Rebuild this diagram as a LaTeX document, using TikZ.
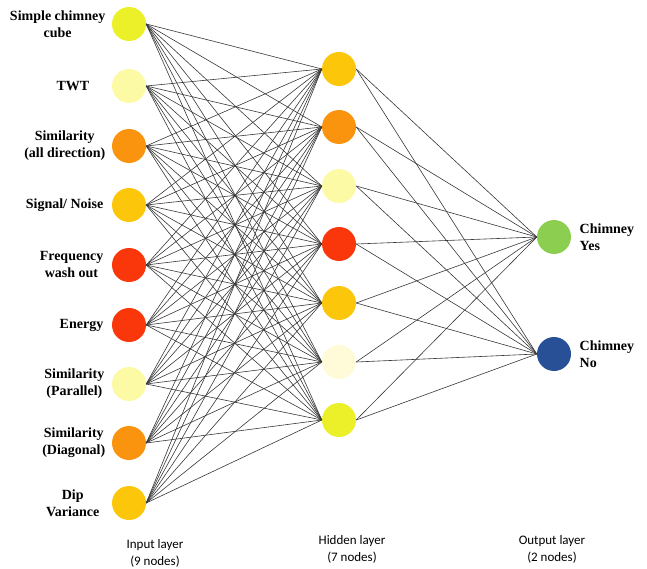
\documentclass[tikz,border=0pt]{standalone}
\usepackage{fontspec}
\newfontfamily\nodefont{Liberation Serif}[BoldFont={Liberation Serif Bold}]
\newfontfamily\layerfont{Carlito}
\usepackage{tikz}
\usetikzlibrary{positioning}
\definecolor{nnlime}{RGB}{236,240,40}
\definecolor{nnpale}{RGB}{252,250,165}
\definecolor{nncream}{RGB}{255,250,215}
\definecolor{nnorange}{RGB}{250,148,15}
\definecolor{nngold}{RGB}{252,198,10}
\definecolor{nnred}{RGB}{250,55,10}
\definecolor{nngreen}{RGB}{140,206,80}
\definecolor{nnblue}{RGB}{40,80,150}
\definecolor{nnedge}{RGB}{55,55,55}
\tikzset{
  neuron/.style={circle, minimum size=34pt, inner sep=0pt},
  inlabel/.style={align=center, font=\nodefont\fontsize{14}{17}\selectfont\bfseries},
  outlabel/.style={align=left, font=\nodefont\fontsize{14}{17}\selectfont\bfseries},
  layerlabel/.style={align=center, font=\layerfont\fontsize{13}{17}\selectfont},
  link/.style={draw=nnedge, line width=0.6pt}
}
\begin{document}
\begin{tikzpicture}[x=1pt, y=1pt]
  \useasboundingbox (0,0) rectangle (647,-569);

  % Input layer
  \foreach \n/\y/\c in {1/24/nnlime, 2/86/nnpale, 3/146/nnorange, 4/205/nngold,
      5/265/nnred, 6/325/nnred, 7/384/nnpale, 8/443/nnorange, 9/503/nngold}
    \node[neuron, fill=\c] (in\n) at (129,-\y) {};

  \node[inlabel, left=3pt of in1] (lab1) {Simple chimney\\cube};
  \node[inlabel, left=19pt of in2] (lab2) {TWT};
  \node[inlabel, left=3pt of in3] (lab3) {Similarity\\(all direction)};
  \node[inlabel, left=5pt of in4] (lab4) {Signal/ Noise};
  \node[inlabel, left=5pt of in5] (lab5) {Frequency\\wash out};
  \node[inlabel, left=5pt of in6] (lab6) {Energy};
  \node[inlabel, left=4pt of in7] (lab7) {Similarity\\(Parallel)};
  \node[inlabel, left=3pt of in8] (lab8) {Similarity\\(Diagonal)};
  \node[inlabel, left=9pt of in9] (lab9) {Dip\\Variance};

  % Hidden layer
  \foreach \n/\y/\c in {1/69/nngold, 2/127/nnorange, 3/186/nnpale, 4/244/nnred,
      5/303/nngold, 6/362/nncream, 7/420/nnlime}
    \node[neuron, fill=\c] (hid\n) at (339,-\y) {};

  % Output layer
  \node[neuron, fill=nngreen] (out1) at (554,-237) {};
  \node[neuron, fill=nnblue] (out2) at (554,-354) {};
  \node[outlabel, right=5pt of out1] (olab1) {Chimney\\Yes};
  \node[outlabel, right=5pt of out2] (olab2) {Chimney\\No};

  % Connections
  \foreach \i in {1,...,9}
    \foreach \j in {1,...,7}
      \draw[link] (in\i.east) -- (hid\j.west);
  \foreach \j in {1,...,7}
    \foreach \k in {1,2}
      \draw[link] (hid\j.east) -- (out\k.west);

  % Layer captions
  \node[layerlabel] (cap1) at (155,-553) {Input layer\\(9 nodes)};
  \node[layerlabel] (cap2) at (352,-549) {Hidden layer\\(7 nodes)};
  \node[layerlabel] (cap3) at (552,-549) {Output layer\\(2 nodes)};
\end{tikzpicture}
\end{document}
